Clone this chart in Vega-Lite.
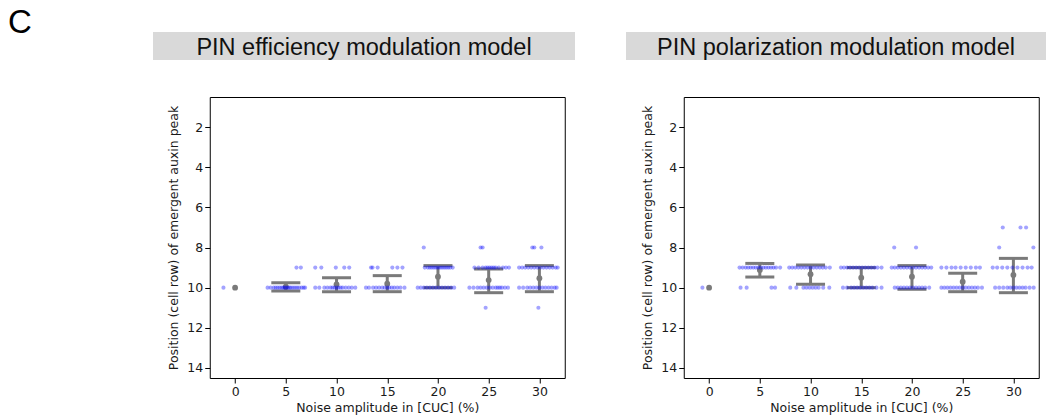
{
  "$schema": "https://vega.github.io/schema/vega-lite/v6.json",
  "padding": {"left": 8, "top": 7, "right": 0, "bottom": 0},
  "background": "white",
  "title": {"text": "C", "anchor": "start", "frame": "bounds", "font": "Liberation Sans", "fontSize": 33, "fontWeight": "normal", "color": "black", "baseline": "bottom", "offset": 0, "dx": -145, "dy": 41},
  "datasets": {
    "ptsL": [
      {"x": -1.15, "y": 10},
      {"x": 6.05, "y": 9}, {"x": 6.48, "y": 9},
      {"x": 3.2, "y": 10}, {"x": 3.5, "y": 10}, {"x": 3.8, "y": 10}, {"x": 4.0, "y": 10}, {"x": 4.2, "y": 10}, {"x": 4.4, "y": 10}, {"x": 4.6, "y": 10}, {"x": 4.75, "y": 10}, {"x": 4.9, "y": 10}, {"x": 5.05, "y": 10}, {"x": 5.2, "y": 10}, {"x": 5.35, "y": 10}, {"x": 5.5, "y": 10}, {"x": 5.7, "y": 10}, {"x": 5.9, "y": 10}, {"x": 6.1, "y": 10}, {"x": 6.3, "y": 10}, {"x": 6.55, "y": 10}, {"x": 6.75, "y": 10}, {"x": 6.9, "y": 10},
      {"x": 7.9, "y": 9}, {"x": 8.5, "y": 9}, {"x": 9.93, "y": 9}, {"x": 10.76, "y": 9}, {"x": 11.25, "y": 9},
      {"x": 7.9, "y": 10}, {"x": 8.3, "y": 10}, {"x": 8.8, "y": 10}, {"x": 9.1, "y": 10}, {"x": 9.4, "y": 10}, {"x": 9.6, "y": 10}, {"x": 9.8, "y": 10}, {"x": 10.0, "y": 10}, {"x": 10.2, "y": 10}, {"x": 10.4, "y": 10}, {"x": 10.6, "y": 10}, {"x": 10.9, "y": 10}, {"x": 11.2, "y": 10}, {"x": 11.5, "y": 10}, {"x": 11.85, "y": 10},
      {"x": 13.4, "y": 9}, {"x": 13.55, "y": 9}, {"x": 14.05, "y": 9}, {"x": 15.5, "y": 9}, {"x": 16.0, "y": 9}, {"x": 16.5, "y": 9},
      {"x": 12.9, "y": 10}, {"x": 13.2, "y": 10}, {"x": 13.6, "y": 10}, {"x": 13.9, "y": 10}, {"x": 14.2, "y": 10}, {"x": 14.5, "y": 10}, {"x": 14.75, "y": 10}, {"x": 15.0, "y": 10}, {"x": 15.2, "y": 10}, {"x": 15.45, "y": 10}, {"x": 15.7, "y": 10}, {"x": 16.0, "y": 10}, {"x": 16.3, "y": 10}, {"x": 16.7, "y": 10},
      {"x": 18.6, "y": 8},
      {"x": 18.7, "y": 9}, {"x": 19.0, "y": 9}, {"x": 19.2, "y": 9}, {"x": 19.4, "y": 9}, {"x": 19.6, "y": 9}, {"x": 19.8, "y": 9}, {"x": 20.0, "y": 9}, {"x": 20.2, "y": 9}, {"x": 20.4, "y": 9}, {"x": 20.6, "y": 9}, {"x": 20.8, "y": 9}, {"x": 21.0, "y": 9}, {"x": 21.2, "y": 9}, {"x": 21.45, "y": 9},
      {"x": 18.0, "y": 10}, {"x": 18.3, "y": 10}, {"x": 18.6, "y": 10}, {"x": 18.9, "y": 10}, {"x": 19.2, "y": 10}, {"x": 19.5, "y": 10}, {"x": 19.8, "y": 10}, {"x": 20.1, "y": 10}, {"x": 20.4, "y": 10}, {"x": 20.7, "y": 10}, {"x": 21.0, "y": 10}, {"x": 21.3, "y": 10}, {"x": 21.6, "y": 10},
      {"x": 24.2, "y": 8}, {"x": 24.4, "y": 8},
      {"x": 23.6, "y": 9}, {"x": 24.0, "y": 9}, {"x": 24.4, "y": 9}, {"x": 24.7, "y": 9}, {"x": 24.9, "y": 9}, {"x": 25.1, "y": 9}, {"x": 25.3, "y": 9}, {"x": 25.5, "y": 9}, {"x": 25.7, "y": 9}, {"x": 26.0, "y": 9}, {"x": 26.4, "y": 9}, {"x": 26.7, "y": 9}, {"x": 27.0, "y": 9},
      {"x": 23.1, "y": 10}, {"x": 23.5, "y": 10}, {"x": 23.9, "y": 10}, {"x": 24.2, "y": 10}, {"x": 24.5, "y": 10}, {"x": 24.8, "y": 10}, {"x": 25.1, "y": 10}, {"x": 25.4, "y": 10}, {"x": 25.7, "y": 10}, {"x": 25.9, "y": 10}, {"x": 26.1, "y": 10}, {"x": 26.3, "y": 10}, {"x": 26.6, "y": 10}, {"x": 26.9, "y": 10},
      {"x": 24.7, "y": 11},
      {"x": 29.3, "y": 8}, {"x": 29.5, "y": 8}, {"x": 30.2, "y": 8},
      {"x": 28.0, "y": 9}, {"x": 28.3, "y": 9}, {"x": 28.6, "y": 9}, {"x": 28.9, "y": 9}, {"x": 29.2, "y": 9}, {"x": 29.5, "y": 9}, {"x": 29.8, "y": 9}, {"x": 30.1, "y": 9}, {"x": 30.4, "y": 9}, {"x": 30.7, "y": 9}, {"x": 31.0, "y": 9}, {"x": 31.3, "y": 9}, {"x": 31.6, "y": 9}, {"x": 31.8, "y": 9},
      {"x": 28.0, "y": 10}, {"x": 28.4, "y": 10}, {"x": 28.8, "y": 10}, {"x": 29.1, "y": 10}, {"x": 29.4, "y": 10}, {"x": 29.7, "y": 10}, {"x": 30.0, "y": 10}, {"x": 30.3, "y": 10}, {"x": 30.6, "y": 10}, {"x": 30.9, "y": 10}, {"x": 31.2, "y": 10}, {"x": 31.5, "y": 10}, {"x": 31.7, "y": 10},
      {"x": 29.9, "y": 11}
    ],
    "ptsR": [
      {"x": -0.66, "y": 10},
      {"x": 3.0, "y": 9}, {"x": 3.3, "y": 9}, {"x": 3.6, "y": 9}, {"x": 3.85, "y": 9}, {"x": 4.1, "y": 9}, {"x": 4.35, "y": 9}, {"x": 4.6, "y": 9}, {"x": 4.85, "y": 9}, {"x": 5.1, "y": 9}, {"x": 5.35, "y": 9}, {"x": 5.6, "y": 9}, {"x": 5.85, "y": 9}, {"x": 6.1, "y": 9}, {"x": 6.35, "y": 9}, {"x": 6.6, "y": 9}, {"x": 7.0, "y": 9},
      {"x": 3.1, "y": 10}, {"x": 3.7, "y": 10}, {"x": 6.15, "y": 10}, {"x": 6.5, "y": 10},
      {"x": 7.9, "y": 9}, {"x": 8.2, "y": 9}, {"x": 8.5, "y": 9}, {"x": 8.8, "y": 9}, {"x": 9.1, "y": 9}, {"x": 9.4, "y": 9}, {"x": 9.7, "y": 9}, {"x": 10.0, "y": 9}, {"x": 10.3, "y": 9}, {"x": 10.6, "y": 9}, {"x": 10.9, "y": 9}, {"x": 11.2, "y": 9}, {"x": 11.5, "y": 9}, {"x": 11.9, "y": 9},
      {"x": 8.0, "y": 10}, {"x": 8.6, "y": 10}, {"x": 9.3, "y": 10}, {"x": 9.6, "y": 10}, {"x": 9.9, "y": 10}, {"x": 10.2, "y": 10}, {"x": 10.5, "y": 10}, {"x": 10.8, "y": 10}, {"x": 11.25, "y": 10}, {"x": 11.85, "y": 10},
      {"x": 13.0, "y": 9}, {"x": 13.3, "y": 9}, {"x": 13.6, "y": 9}, {"x": 13.9, "y": 9}, {"x": 14.2, "y": 9}, {"x": 14.5, "y": 9}, {"x": 14.8, "y": 9}, {"x": 15.1, "y": 9}, {"x": 15.4, "y": 9}, {"x": 15.7, "y": 9}, {"x": 16.0, "y": 9}, {"x": 16.3, "y": 9}, {"x": 16.6, "y": 9}, {"x": 17.0, "y": 9},
      {"x": 13.2, "y": 10}, {"x": 13.6, "y": 10}, {"x": 14.0, "y": 10}, {"x": 14.3, "y": 10}, {"x": 14.6, "y": 10}, {"x": 14.9, "y": 10}, {"x": 15.2, "y": 10}, {"x": 15.5, "y": 10}, {"x": 15.8, "y": 10}, {"x": 16.1, "y": 10}, {"x": 16.5, "y": 10}, {"x": 17.0, "y": 10},
      {"x": 18.25, "y": 8}, {"x": 20.4, "y": 8},
      {"x": 18.0, "y": 9}, {"x": 18.3, "y": 9}, {"x": 18.6, "y": 9}, {"x": 18.9, "y": 9}, {"x": 19.2, "y": 9}, {"x": 19.5, "y": 9}, {"x": 19.8, "y": 9}, {"x": 20.1, "y": 9}, {"x": 20.4, "y": 9}, {"x": 20.7, "y": 9}, {"x": 21.0, "y": 9}, {"x": 21.3, "y": 9}, {"x": 21.6, "y": 9}, {"x": 21.9, "y": 9},
      {"x": 18.3, "y": 10}, {"x": 18.6, "y": 10}, {"x": 18.9, "y": 10}, {"x": 19.2, "y": 10}, {"x": 19.5, "y": 10}, {"x": 19.8, "y": 10}, {"x": 20.1, "y": 10}, {"x": 20.4, "y": 10}, {"x": 20.7, "y": 10}, {"x": 21.0, "y": 10}, {"x": 21.3, "y": 10}, {"x": 21.7, "y": 10},
      {"x": 22.9, "y": 9}, {"x": 23.4, "y": 9}, {"x": 23.9, "y": 9}, {"x": 24.3, "y": 9}, {"x": 24.8, "y": 9}, {"x": 25.3, "y": 9}, {"x": 25.8, "y": 9}, {"x": 26.3, "y": 9}, {"x": 26.7, "y": 9},
      {"x": 22.9, "y": 10}, {"x": 23.2, "y": 10}, {"x": 23.5, "y": 10}, {"x": 23.8, "y": 10}, {"x": 24.1, "y": 10}, {"x": 24.4, "y": 10}, {"x": 24.7, "y": 10}, {"x": 25.0, "y": 10}, {"x": 25.3, "y": 10}, {"x": 25.6, "y": 10}, {"x": 25.9, "y": 10}, {"x": 26.2, "y": 10}, {"x": 26.5, "y": 10}, {"x": 26.9, "y": 10},
      {"x": 28.95, "y": 7}, {"x": 30.7, "y": 7}, {"x": 31.25, "y": 7},
      {"x": 28.6, "y": 8}, {"x": 31.97, "y": 8},
      {"x": 27.96, "y": 9}, {"x": 28.4, "y": 9}, {"x": 28.9, "y": 9}, {"x": 29.4, "y": 9}, {"x": 29.9, "y": 9}, {"x": 30.4, "y": 9}, {"x": 30.9, "y": 9}, {"x": 31.4, "y": 9}, {"x": 31.8, "y": 9},
      {"x": 28.2, "y": 10}, {"x": 28.6, "y": 10}, {"x": 29.0, "y": 10}, {"x": 29.4, "y": 10}, {"x": 29.7, "y": 10}, {"x": 30.0, "y": 10}, {"x": 30.3, "y": 10}, {"x": 30.6, "y": 10}, {"x": 30.9, "y": 10}, {"x": 31.2, "y": 10}, {"x": 31.6, "y": 10}, {"x": 32.0, "y": 10}
    ],
    "sumL": [
      {"x": 0, "mean": 10, "lo": 10, "hi": 10},
      {"x": 5, "mean": 9.95, "lo": 9.75, "hi": 10.17},
      {"x": 10, "mean": 9.84, "lo": 9.5, "hi": 10.2},
      {"x": 15, "mean": 9.8, "lo": 9.4, "hi": 10.2},
      {"x": 20, "mean": 9.45, "lo": 8.9, "hi": 10.0},
      {"x": 25, "mean": 9.62, "lo": 9.07, "hi": 10.25},
      {"x": 30, "mean": 9.53, "lo": 8.9, "hi": 10.2}
    ],
    "sumR": [
      {"x": 0, "mean": 10, "lo": 10, "hi": 10},
      {"x": 5, "mean": 9.12, "lo": 8.79, "hi": 9.47},
      {"x": 10, "mean": 9.33, "lo": 8.87, "hi": 9.83},
      {"x": 15, "mean": 9.5, "lo": 9.0, "hi": 10.0},
      {"x": 20, "mean": 9.45, "lo": 8.9, "hi": 10.08},
      {"x": 25, "mean": 9.7, "lo": 9.28, "hi": 10.2},
      {"x": 30, "mean": 9.37, "lo": 8.54, "hi": 10.25}
    ],
    "hdrL": [{"label": "PIN efficiency modulation model"}],
    "hdrR": [{"label": "PIN polarization modulation model"}]
  },
  "spacing": 4,
  "hconcat": [
    {
      "spacing": 36,
      "center": true,
      "resolve": {"scale": {"x": "independent", "y": "independent"}},
      "vconcat": [
        {
          "data": {"name": "hdrL"},
          "width": 422, "height": 28,
          "view": {"fill": "#d9d9d9", "stroke": null},
          "mark": {"type": "text", "font": "Liberation Sans", "fontSize": 23.5, "color": "#111111", "baseline": "middle", "dy": 1.5},
          "encoding": {
            "text": {"field": "label"},
            "y": {"field": "label", "type": "nominal", "axis": {"orient": "right", "labels": false, "ticks": false, "domain": false, "grid": false, "title": null, "minExtent": 47, "maxExtent": 47}}
          }
        },
        {
          "width": 355, "height": 281,
          "view": {"stroke": "black", "strokeWidth": 1, "fill": "white"},
          "layer": [
            {
              "data": {"name": "sumL"},
              "transform": [{"filter": "datum.x > 0"}],
              "mark": {"type": "rule", "color": "#7a7a7a", "strokeWidth": 3},
              "encoding": {
                "x": {"field": "x", "type": "quantitative", "scale": {"domain": [-2.5, 32.5], "nice": false, "zero": false}, "axis": {"values": [0, 5, 10, 15, 20, 25, 30], "title": "Noise amplitude in [CUC] (%)"}},
                "y": {"field": "lo", "type": "quantitative", "scale": {"domain": [0.5, 14.5], "nice": false, "zero": false, "reverse": true}, "axis": {"values": [2, 4, 6, 8, 10, 12, 14], "title": "Position (cell row) of emergent auxin peak"}},
                "y2": {"field": "hi"}
              }
            },
            {
              "data": {"name": "sumL"},
              "transform": [{"filter": "datum.x > 0"}],
              "mark": {"type": "tick", "orient": "horizontal", "color": "#7a7a7a", "size": 29, "thickness": 3, "opacity": 1},
              "encoding": {"x": {"field": "x", "type": "quantitative"}, "y": {"field": "lo", "type": "quantitative"}}
            },
            {
              "data": {"name": "sumL"},
              "transform": [{"filter": "datum.x > 0"}],
              "mark": {"type": "tick", "orient": "horizontal", "color": "#7a7a7a", "size": 29, "thickness": 3, "opacity": 1},
              "encoding": {"x": {"field": "x", "type": "quantitative"}, "y": {"field": "hi", "type": "quantitative"}}
            },
            {
              "data": {"name": "sumL"},
              "mark": {"type": "circle", "color": "#7a7a7a", "size": 34, "opacity": 1},
              "encoding": {"x": {"field": "x", "type": "quantitative"}, "y": {"field": "mean", "type": "quantitative"}}
            },
            {
              "data": {"name": "ptsL"},
              "mark": {"type": "circle", "color": "#0000ff", "size": 17, "opacity": 0.36},
              "encoding": {"x": {"field": "x", "type": "quantitative"}, "y": {"field": "y", "type": "quantitative"}}
            }
          ]
        }
      ]
    },
    {
      "spacing": 36,
      "center": true,
      "resolve": {"scale": {"x": "independent", "y": "independent"}},
      "vconcat": [
        {
          "data": {"name": "hdrR"},
          "width": 420, "height": 28,
          "view": {"fill": "#d9d9d9", "stroke": null},
          "mark": {"type": "text", "font": "Liberation Sans", "fontSize": 23.5, "color": "#111111", "baseline": "middle", "dy": 1.5},
          "encoding": {
            "text": {"field": "label"},
            "y": {"field": "label", "type": "nominal", "axis": {"orient": "right", "labels": false, "ticks": false, "domain": false, "grid": false, "title": null, "minExtent": 51, "maxExtent": 51}}
          }
        },
        {
          "width": 355, "height": 281,
          "view": {"stroke": "black", "strokeWidth": 1, "fill": "white"},
          "layer": [
            {
              "data": {"name": "sumR"},
              "transform": [{"filter": "datum.x > 0"}],
              "mark": {"type": "rule", "color": "#7a7a7a", "strokeWidth": 3},
              "encoding": {
                "x": {"field": "x", "type": "quantitative", "scale": {"domain": [-2.5, 32.5], "nice": false, "zero": false}, "axis": {"values": [0, 5, 10, 15, 20, 25, 30], "title": "Noise amplitude in [CUC] (%)"}},
                "y": {"field": "lo", "type": "quantitative", "scale": {"domain": [0.5, 14.5], "nice": false, "zero": false, "reverse": true}, "axis": {"values": [2, 4, 6, 8, 10, 12, 14], "title": "Position (cell row) of emergent auxin peak"}},
                "y2": {"field": "hi"}
              }
            },
            {
              "data": {"name": "sumR"},
              "transform": [{"filter": "datum.x > 0"}],
              "mark": {"type": "tick", "orient": "horizontal", "color": "#7a7a7a", "size": 29, "thickness": 3, "opacity": 1},
              "encoding": {"x": {"field": "x", "type": "quantitative"}, "y": {"field": "lo", "type": "quantitative"}}
            },
            {
              "data": {"name": "sumR"},
              "transform": [{"filter": "datum.x > 0"}],
              "mark": {"type": "tick", "orient": "horizontal", "color": "#7a7a7a", "size": 29, "thickness": 3, "opacity": 1},
              "encoding": {"x": {"field": "x", "type": "quantitative"}, "y": {"field": "hi", "type": "quantitative"}}
            },
            {
              "data": {"name": "sumR"},
              "mark": {"type": "circle", "color": "#7a7a7a", "size": 34, "opacity": 1},
              "encoding": {"x": {"field": "x", "type": "quantitative"}, "y": {"field": "mean", "type": "quantitative"}}
            },
            {
              "data": {"name": "ptsR"},
              "mark": {"type": "circle", "color": "#0000ff", "size": 17, "opacity": 0.36},
              "encoding": {"x": {"field": "x", "type": "quantitative"}, "y": {"field": "y", "type": "quantitative"}}
            }
          ]
        }
      ]
    }
  ],
  "config": {
    "font": "DejaVu Sans",
    "axis": {
      "grid": false,
      "domain": false,
      "ticks": true,
      "tickColor": "black",
      "tickSize": 5,
      "tickWidth": 1,
      "labelFont": "DejaVu Sans",
      "labelFontSize": 12.5,
      "labelColor": "#1a1a1a",
      "labelPadding": 2,
      "titleFont": "DejaVu Sans",
      "titleFontSize": 12.5,
      "titleFontWeight": "normal",
      "titleColor": "#1a1a1a"
    },
    "axisX": {"titlePadding": 4, "labelFlush": false},
    "axisY": {"titlePadding": 6}
  }
}
